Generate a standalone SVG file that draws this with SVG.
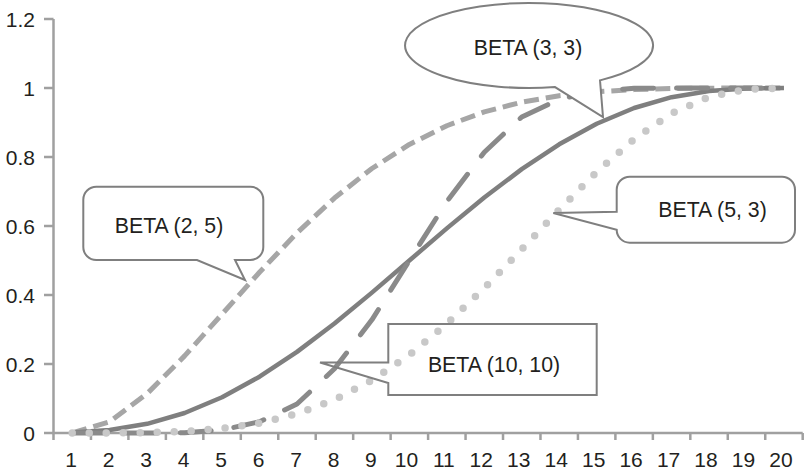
<svg xmlns="http://www.w3.org/2000/svg" width="809" height="474" viewBox="0 0 809 474">
<style>
.ax{stroke:#a0a0a0;stroke-width:2.5;fill:none}
.lbl{font-family:"Liberation Sans",Arial,sans-serif;font-size:21px;fill:#231f20}
.yl{text-anchor:end}
.xl{text-anchor:middle}
.s{fill:none;stroke-linejoin:round}
.b25{stroke:#a6a6a6;stroke-width:5;stroke-dasharray:15 7}
.b33{stroke:#7f7f7f;stroke-width:4.5}
.b1010{stroke:#8a8a8a;stroke-width:5;stroke-dasharray:31 23;stroke-linecap:round}
.b53{stroke:#c8c8c8;stroke-width:7.5;stroke-dasharray:0 17;stroke-linecap:round}
.co{fill:#fff;stroke:#7f7f7f;stroke-width:2;stroke-linejoin:miter}
.ct{font-family:"Liberation Sans",Arial,sans-serif;font-size:21.3px;fill:#231f20;text-anchor:middle}
</style>
<rect width="809" height="474" fill="#fff"/>
<g id="axes">
<path class="ax" d="M53.5,19V433H802.7"/>
<path class="ax" d="M44,19H53.5M44,88H53.5M44,157H53.5M44,226H53.5M44,295H53.5M44,364H53.5M44,433H53.5"/>
<path class="ax" d="M53.5,433V440M90.96,433V440M128.42,433V440M165.88,433V440M203.34,433V440M240.8,433V440M278.26,433V440M315.72,433V440M353.18,433V440M390.64,433V440M428.1,433V440M465.56,433V440M503.02,433V440M540.48,433V440M577.94,433V440M615.4,433V440M652.86,433V440M690.32,433V440M727.78,433V440M765.24,433V440M802.7,433V440"/>
<g class="lbl yl">
<text x="35" y="26.5">1.2</text>
<text x="35" y="95.5">1</text>
<text x="35" y="164.5">0.8</text>
<text x="35" y="233.5">0.6</text>
<text x="35" y="302.5">0.4</text>
<text x="35" y="371.5">0.2</text>
<text x="35" y="440.5">0</text>
</g>
<g class="lbl xl">
<text x="71.2" y="466.5">1</text>
<text x="108.7" y="466.5">2</text>
<text x="146.2" y="466.5">3</text>
<text x="183.6" y="466.5">4</text>
<text x="221.1" y="466.5">5</text>
<text x="258.5" y="466.5">6</text>
<text x="296" y="466.5">7</text>
<text x="333.5" y="466.5">8</text>
<text x="370.9" y="466.5">9</text>
<text x="406.4" y="466.5">10</text>
<text x="443.8" y="466.5">11</text>
<text x="481.3" y="466.5">12</text>
<text x="518.8" y="466.5">13</text>
<text x="556.2" y="466.5">14</text>
<text x="593.7" y="466.5">15</text>
<text x="631.1" y="466.5">16</text>
<text x="668.6" y="466.5">17</text>
<text x="706" y="466.5">18</text>
<text x="743.5" y="466.5">19</text>
<text x="781" y="466.5">20</text>
</g>
</g>
<g id="series">
<polyline id="beta25" class="s b25" points="72.23,433 109.69,421.69 147.15,393.58 184.61,355.88 222.07,314.1 259.53,272.21 296.99,232.96 334.45,198.08 371.91,168.48 409.37,144.43 446.83,125.73 484.29,111.87 521.75,102.13 559.21,95.7 596.67,91.77 634.13,89.6 671.59,88.55 709.05,88.16 746.51,88.04 783.97,88"/>
<polyline id="beta33" class="s b33" points="72.23,432.6 109.69,430.05 147.15,423.82 184.61,413.02 222.07,397.29 259.53,376.74 296.99,351.86 334.45,323.48 371.91,292.63 409.37,260.5 446.83,228.37 484.29,197.52 521.75,169.14 559.21,144.26 596.67,123.71 634.13,107.98 671.59,97.18 709.05,90.95 746.51,88.4 783.97,88"/>
<polyline id="beta1010" class="s b1010" points="72.23,433 109.69,433 147.15,433 184.61,432.7 222.07,429.93 259.53,421.77 296.99,404.05 334.45,368.8 371.91,319.8 409.37,260.5 446.83,201.5 484.29,152.2 521.75,116.95 559.21,99.23 596.67,91.07 634.13,88.3 671.59,88 709.05,88 746.51,88 783.97,88"/>
<polyline id="beta53" class="s b53" points="72.23,433 109.69,432.94 147.15,432.58 184.61,431.39 222.07,428.56 259.53,423.06 296.99,413.81 334.45,399.79 371.91,380.24 409.37,354.84 446.83,323.83 484.29,288.13 521.75,249.36 559.21,209.76 596.67,172.04 634.13,139.07 671.59,113.45 709.05,96.86 746.51,89.3 783.97,88"/>
</g>
<g id="callout-beta33">
<path class="co" d="M555,87.05A124,42.5 0 1 1 600,80.35L603,117Z"/>
<text class="ct" x="528" y="55">BETA (3, 3)</text>
</g>
<g id="callout-beta25">
<path class="co" d="M96.3,186.7H250.3A13,13 0 0 1 263.3,199.7V247A13,13 0 0 1 250.3,260H235L245,280L197,260H96.3A13,13 0 0 1 83.3,247V199.7A13,13 0 0 1 96.3,186.7Z"/>
<text class="ct" x="169" y="233">BETA (2, 5)</text>
</g>
<g id="callout-beta53">
<path class="co" d="M629.7,176.7H782A13,13 0 0 1 795,189.7V229.7A13,13 0 0 1 782,242.7H629.7A13,13 0 0 1 616.7,229.7L553.3,213L616.7,211.7V189.7A13,13 0 0 1 629.7,176.7Z"/>
<text class="ct" x="712.5" y="217">BETA (5, 3)</text>
</g>
<g id="callout-beta1010">
<path class="co" style="fill:none" d="M388.3,324H596.7V395H388.3V383L320,362.5H388.3Z"/>
<text class="ct" x="494" y="372">BETA (10, 10)</text>
</g>
</svg>
